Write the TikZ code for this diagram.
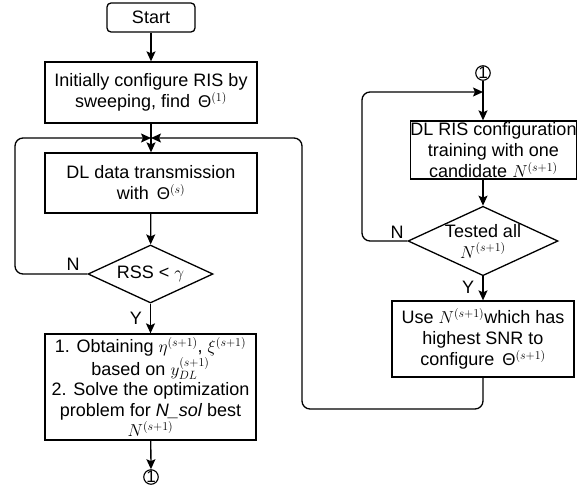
\documentclass[tikz,border=0pt]{standalone}
\usepackage{fontspec}
\setmainfont{Liberation Sans}
\usetikzlibrary{shapes.geometric,arrows.meta}
\newcommand{\Th}{{\fontsize{17}{17}\selectfont Θ}}
\begin{document}
\begin{tikzpicture}[x=1pt,y=-1pt,
  every node/.style={font=\fontsize{18}{21}\selectfont},
  box/.style={draw,line width=1.3pt,rectangle,align=center,inner sep=0pt},
  dia/.style={draw,line width=1.3pt,diamond,aspect=2.15,inner sep=0pt,align=center},
  conn/.style={draw,line width=1.1pt,circle,inner sep=-1.5pt,minimum size=14.5pt,font=\fontsize{17}{17}\selectfont},
  arr/.style={line width=1.3pt,-{Stealth[length=10pt,width=9pt,inset=2pt]}},
  ln/.style={line width=1.3pt,rounded corners=8pt},
  lbl/.style={font=\fontsize{18}{21}\selectfont}]
\useasboundingbox (0,0) rectangle (584,493);
% left column
\node[box,rounded corners=4pt,minimum width=88pt,minimum height=29pt] (start) at (151,17.5) {Start};
\node[box,minimum width=212pt,minimum height=61pt] (init) at (151,92.5) {Initially configure RIS by\\ sweeping, find \,\Th$^{(1)}$};
\coordinate (j) at (151,138);
\node[box,minimum width=212pt,minimum height=60pt] (dl) at (151,183) {DL data transmission\\ with \,\Th$^{(s)}$};
\node[dia,minimum width=125pt,minimum height=58pt] (rss) at (150.5,274) {RSS < $\gamma$};
\node[box,minimum width=211pt,minimum height=106pt,font=\fontsize{18}{20.5}\selectfont] (opt) at (150.5,387)
 {1. Obtaining $\eta^{(s+1)}$, $\xi^{(s+1)}$\\ based on $y_{DL}^{(s+1)}$\\ 2. Solve the optimization\\ problem for \textit{N\_sol} best\\ $N^{(s+1)}$};
\node[conn] (c1) at (151,477) {1};
% right column
\node[conn] (c2) at (483,73) {1};
\node[box,minimum width=147pt,minimum height=58pt] (ris) at (493.5,150) {DL RIS configuration\\ training with one\\ candidate $N^{(s+1)}$};
\node[dia,minimum width=150pt,minimum height=58pt] (tested) at (483,241) {Tested all\\ $N^{(s+1)}$};
\node[box,minimum width=182pt,minimum height=76pt] (use) at (483,339) {Use $N^{(s+1)}$which has\\ highest SNR to\\ configure \,\Th$^{(s+1)}$};
\coordinate (lt) at (362,92);
% connectors
\draw[arr] (start) -- (init);
\draw[arr] (init) -- (dl);
\draw[arr] (dl) -- (rss);
\draw[arr] (rss) -- (opt);
\draw[arr] (opt) -- (c1);
\draw[arr] (c2) -- (c2 |- ris.north);
\draw[arr] (ris.south -| c2) -- (tested);
\draw[arr] (tested) -- (use);
\draw[ln,arr] (rss.west) -- (15,274) -- (15,138) -- (j);
\draw[ln,arr] (use.south) -- (483,409) -- (302,409) -- (302,138) -- (j);
\draw[ln,arr] (tested.west) -- (362,241) -- (lt) -- (lt -| c2);
% labels
\node[lbl] (ln1) at (73,264) {N};
\node[lbl] (ly1) at (136,318) {Y};
\node[lbl] (ln2) at (397,232) {N};
\node[lbl] (ly2) at (468,287) {Y};
\end{tikzpicture}
\end{document}
